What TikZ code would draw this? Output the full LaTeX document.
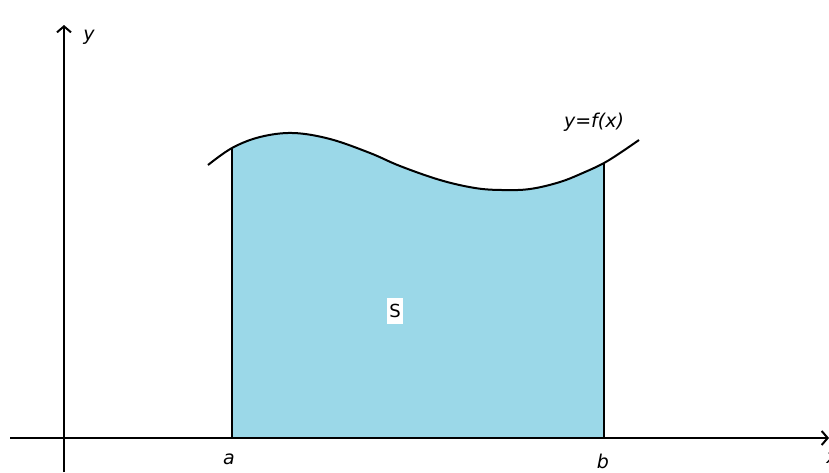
\documentclass[tikz,border=0pt]{standalone}
\usepackage{fontspec}
\setmainfont{DejaVu Sans}
\usetikzlibrary{arrows.meta}
\definecolor{areablue}{RGB}{155,216,232}
\tikzset{
  axis/.style={line width=2pt,-{Straight Barb[length=6pt,width=14pt,line width=2pt]}},
  curveline/.style={line width=2pt},
  lbl/.style={font=\fontsize{19}{22}\selectfont\itshape, inner sep=1pt},
}
\begin{document}
\begin{tikzpicture}[x=1pt,y=-1pt]
\useasboundingbox (0,0) rectangle (829,472);
\coordinate (A) at (232,148);
\coordinate (B) at (604,163);
\coordinate (Ab) at (232,438);
\coordinate (Bb) at (604,438);
% filled area
\begin{scope}
\clip (232,0) rectangle (604,438);
\fill[areablue] plot[smooth,tension=0.6] coordinates {(208,165) (A) (260,137) (293,133) (330,139) (370,153) (400,166) (440,180) (475,188) (502,190) (530,189) (560,182) (585,172) (B) (620,153) (639,140)} -- (639,438) -- (208,438) -- cycle;
\end{scope}
% axes
\coordinate (xs) at (10,438);
\coordinate (xe) at (829,438);
\coordinate (ys) at (64,472);
\coordinate (ye) at (64,25);
\draw[axis] (xs) -- (xe);
\draw[axis] (ys) -- (ye);
% curve
\draw[curveline] plot[smooth,tension=0.6] coordinates {(208,165) (A) (260,137) (293,133) (330,139) (370,153) (400,166) (440,180) (475,188) (502,190) (530,189) (560,182) (585,172) (B) (620,153) (639,140)};
\draw[curveline] (Ab) -- (A);
\draw[curveline] (Bb) -- (B);
% labels
\node[lbl] (ly) at (89,37) {y};
\node[lbl] (lx) at (832,458) {x};
\node[lbl] (la) at (229,459) {a};
\node[lbl] (lb) at (603,461) {b};
\node[lbl] (lf) at (594,122) {y=f(x)};
\node[fill=white, inner xsep=2pt, inner ysep=6pt, font=\fontsize{18}{21}\selectfont] (S) at (395,311) {S};
\end{tikzpicture}
\end{document}
